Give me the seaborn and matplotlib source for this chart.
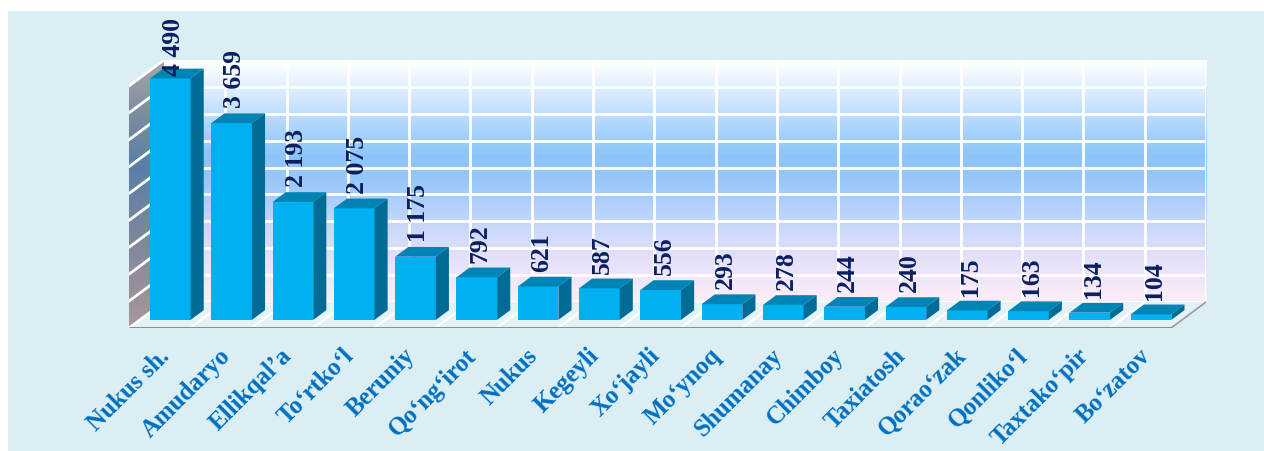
import numpy as np
import matplotlib
matplotlib.use("Agg")
import matplotlib.pyplot as plt
import seaborn as sns
from matplotlib.patches import Polygon, Rectangle
from matplotlib.colors import LinearSegmentedColormap
from matplotlib.transforms import Affine2D

# ---- data ----
categories = ["Nukus sh.", "Amudaryo", "Ellikqal\u2019a", "To\u2018rtko\u2018l", "Beruniy",
              "Qo\u2018ng\u2018irot", "Nukus", "Kegeyli", "Xo\u2018jayli", "Mo\u2018ynoq",
              "Shumanay", "Chimboy", "Taxiatosh", "Qorao\u2018zak", "Qonliko\u2018l",
              "Taxtako\u2018pir", "Bo\u2018zatov"]
values = [4490, 3659, 2193, 2075, 1175, 792, 621, 587, 556, 293, 278, 244, 240, 175, 163, 134, 104]
value_labels = ["4 490", "3 659", "2 193", "2 075", "1 175", "792", "621", "587", "556",
                "293", "278", "244", "240", "175", "163", "134", "104"]
grid_values = list(range(0, 5000, 500))

# ---- style ----
sns.set_style("white")
plt.rcParams["font.family"] = ["Liberation Serif", "DejaVu Serif"]

W, H = 1264, 452
fig = plt.figure(figsize=(W / 100, H / 100), dpi=100)
fig.patch.set_facecolor("white")
fig.patches.append(Rectangle((8 / W, 0), 1, 1 - 12 / H, transform=fig.transFigure,
                             facecolor="#DBEEF4", edgecolor="none", zorder=-10))

ax = fig.add_axes([129 / W, 1 - 329 / H, (1206 - 129) / W, (329 - 61) / H])
ax.set_facecolor("none")

n = len(categories)
YMAX = 4500
DX, DY = 0.57, 483          # depth of the floor (x in category units, y in value units)
R = 0.375                   # bar depth relative to floor depth
BX, BY = DX * R, DY * R
OX, OY = 0.174, (DY - BY) / 2
BAR_W = 0.663

# back wall gradient
wall_cmap = LinearSegmentedColormap.from_list("wall", [
    (0.0, "#FBEEF8"), (0.12, "#EEE4FA"), (0.25, "#D6DCFA"), (0.38, "#B6D2FB"),
    (0.5, "#98C8FA"), (0.6, "#8CC4F9"), (0.72, "#ACD5FC"), (0.84, "#D3E8FD"),
    (0.95, "#F4FAFF"), (1.0, "#FFFFFF")])
grad = np.linspace(0, 1, 256).reshape(-1, 1)
ax.imshow(grad, extent=[-0.5 + DX, n - 0.5 + DX, DY, YMAX + DY], origin="lower",
          aspect="auto", cmap=wall_cmap, zorder=0)

# floor
floor = Polygon([(-0.5, 0), (n - 0.5, 0), (n - 0.5 + DX, DY), (-0.5 + DX, DY)],
                closed=True, facecolor="#E3F2F7", edgecolor="none", zorder=1)
ax.add_patch(floor)
for k in range(1, n):
    ax.plot([k - 0.5, k - 0.5 + DX], [0, DY], color="white", lw=1.6, zorder=1.5)
ax.plot([-0.5, n - 0.5], [0, 0], color="#8E8E8E", lw=2.2, zorder=6, solid_capstyle="butt")
ax.plot([n - 0.5, n - 0.5 + DX], [0, DY], color="#9A9A9A", lw=1.2, zorder=1.6)

# left wall gradient
lw_cmap = LinearSegmentedColormap.from_list("lwall", [
    (0.0, "#AC969C"), (0.3, "#82889E"), (0.6, "#5A7EA8"), (0.8, "#7C8CA0"), (1.0, "#A8A8A8")])
left_poly = Polygon([(-0.5, 0), (-0.5 + DX, DY), (-0.5 + DX, YMAX + DY), (-0.5, YMAX)],
                    closed=True, facecolor="none", edgecolor="none", transform=ax.transData)
ax.add_patch(left_poly)
im2 = ax.imshow(grad, extent=[-0.5, -0.5 + DX, 0, YMAX + DY], origin="lower",
                aspect="auto", cmap=lw_cmap, zorder=1.2)
im2.set_clip_path(left_poly)

# grid lines on walls
for v in grid_values:
    ax.plot([-0.5 + DX, n - 0.5 + DX], [v + DY, v + DY], color="white", lw=2, zorder=0.5)
    ax.plot([-0.5, -0.5 + DX], [v, v + DY], color="white", lw=2, zorder=1.3)
for k in range(1, n + 1):
    ax.plot([k - 0.5 + DX, k - 0.5 + DX], [DY, YMAX + DY], color="white", lw=2, zorder=0.5)

# bars
sns.barplot(x=categories, y=values, color="#00B0F0", saturation=1, width=BAR_W,
            ax=ax, zorder=5, edgecolor="none", linewidth=0)
shift = Affine2D().translate(OX, OY) + ax.transData
bars = list(ax.patches)[-n:]
for p in bars:
    p.set_transform(shift)
    x0 = p.get_x() + OX
    w = p.get_width()
    h = p.get_height()
    top = Polygon([(x0, OY + h), (x0 + w, OY + h), (x0 + w + BX, OY + h + BY), (x0 + BX, OY + h + BY)],
                  closed=True, facecolor="#0084B6", edgecolor="none", zorder=5)
    side = Polygon([(x0 + w, OY), (x0 + w + BX, OY + BY), (x0 + w + BX, OY + h + BY), (x0 + w, OY + h)],
                   closed=True, facecolor="#006C95", edgecolor="none", zorder=5)
    ax.add_patch(top)
    ax.add_patch(side)

# value labels
texts = []
for p, lab in zip(bars, value_labels):
    x0 = p.get_x() + OX
    w = p.get_width()
    h = p.get_height()
    t = ax.text(x0 + w / 2 + BX / 4, OY + h + BY + 110, lab, rotation=90, ha="center",
                va="bottom", fontsize=18.5, fontweight="bold", color="#0B1F5E", zorder=7)
    texts.append(t)

ax.set_xlim(-0.5, n - 0.5 + DX)
ax.set_ylim(0, YMAX + DY)
for s in ax.spines.values():
    s.set_visible(False)
ax.set_yticks([])
ax.set_xticks(np.arange(n) - 0.03, labels=categories, rotation=45, ha="right",
              rotation_mode="anchor", fontsize=18, fontweight="bold", color="#0070C0")
ax.set_xticks(np.arange(n + 1) - 0.5, minor=True)
ax.tick_params(axis="x", which="major", length=0, pad=11)
ax.tick_params(axis="x", which="minor", length=7, width=2, color="#8E8E8E", direction="out")
ax.set_xlabel("")
ax.set_ylabel("")

# keep value labels inside the chart area
fig.canvas.draw()
renderer = fig.canvas.get_renderer()
inv = ax.transData.inverted()
for t in texts:
    ext = t.get_window_extent(renderer)
    limit = H - 18
    if ext.y1 > limit:
        dpx = ext.y1 - limit
        xd, yd = t.get_position()
        px = ax.transData.transform((xd, yd))
        _, ynew = inv.transform((px[0], px[1] - dpx))
        t.set_position((xd, ynew))

fig.savefig("out.png", dpi=100)
